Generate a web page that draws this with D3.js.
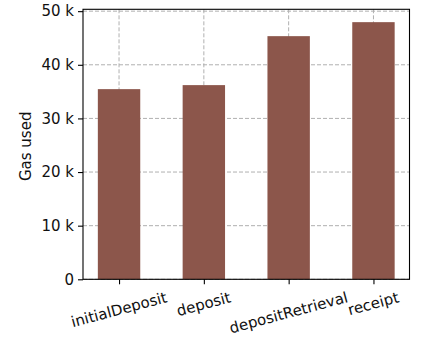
<!DOCTYPE html>
<html>
<head>
<meta charset="utf-8">
<script src="https://cdn.jsdelivr.net/npm/d3@7"></script>
<style>
  html, body { margin: 0; padding: 0; background: #fff; }
  svg { display: block; font-family: "DejaVu Sans", sans-serif; }
</style>
</head>
<body>
<svg id="chart" width="421" height="339"></svg>
<script>
// Gas consumption per contract call
const categories = ["initialDeposit", "deposit", "depositRetrieval", "receipt"];
const gasUsed = [35460, 36210, 45340, 47950];
const yTicks = [0, 10000, 20000, 30000, 40000, 50000];
const yTickLabels = ["0", "10 k", "20 k", "30 k", "40 k", "50 k"];

const W = 421, H = 339;
const margin = { top: 9.3, right: 11.5, bottom: 59.7, left: 83 };
const fontSize = "15px";
const textColor = "#111";
const svg = d3.select("#chart");
const innerW = W - margin.left - margin.right;
const innerH = H - margin.top - margin.bottom;
const g = svg.append("g").attr("transform", `translate(${margin.left},${margin.top})`);

const barWidth = 0.5;
const pad = (categories.length - 1 + barWidth) * 0.05;
const x = d3.scaleLinear()
  .domain([-barWidth / 2 - pad, categories.length - 1 + barWidth / 2 + pad])
  .range([0, innerW]);
const y = d3.scaleLinear()
  .domain([0, d3.max(gasUsed) * 1.05])
  .range([innerH, 0]);

const gridColor = "#b0b0b0";
const dash = "4,2";

// grid (drawn beneath the bars)
g.append("g").selectAll("line.hg").data(yTicks).join("line")
  .attr("x1", 0).attr("x2", innerW)
  .attr("y1", d => y(d)).attr("y2", d => y(d))
  .attr("stroke", gridColor).attr("stroke-width", 1).attr("stroke-dasharray", dash);
g.append("g").selectAll("line.vg").data(categories.map((c, i) => i)).join("line")
  .attr("x1", d => x(d)).attr("x2", d => x(d))
  .attr("y1", 0).attr("y2", innerH)
  .attr("stroke", gridColor).attr("stroke-width", 1).attr("stroke-dasharray", dash);

// bars
g.append("g").selectAll("rect").data(gasUsed).join("rect")
  .attr("x", (d, i) => x(i - barWidth / 2))
  .attr("width", (d, i) => x(i + barWidth / 2) - x(i - barWidth / 2))
  .attr("y", d => y(d))
  .attr("height", d => innerH - y(d))
  .attr("fill", "#8c564b");

// y axis
const yAxis = d3.axisLeft(y)
  .tickValues(yTicks)
  .tickFormat((d, i) => yTickLabels[i])
  .tickSize(5).tickPadding(4);
const yg = g.append("g").call(yAxis);
yg.select(".domain").remove();
yg.selectAll(".tick line").attr("stroke", "#000").attr("stroke-width", 1.1);
yg.selectAll(".tick text").attr("font-size", fontSize).attr("fill", textColor)
  .attr("font-family", "DejaVu Sans, sans-serif");

// x axis ticks
const xAxis = d3.axisBottom(x)
  .tickValues(categories.map((c, i) => i))
  .tickFormat("")
  .tickSize(5);
const xg = g.append("g").attr("transform", `translate(0,${innerH})`).call(xAxis);
xg.select(".domain").remove();
xg.selectAll(".tick line").attr("stroke", "#000").attr("stroke-width", 1.1);

// rotated category labels, centred under each tick
const angle = 15 * Math.PI / 180;
const labelTop = innerH + 5 + 4;
categories.forEach((c, i) => {
  const outer = g.append("g");
  const inner = outer.append("g");
  const t = inner.append("text")
    .attr("font-size", fontSize).attr("fill", textColor)
    .text(c);
  const bb = t.node().getBBox();
  inner.attr("transform", `translate(${-bb.x - bb.width / 2},${-bb.y - bb.height / 2})`);
  const halfH = (bb.width * Math.sin(angle) + bb.height * Math.cos(angle)) / 2;
  outer.attr("transform", `translate(${x(i)},${labelTop + halfH}) rotate(-15)`);
});

// spines
g.append("rect")
  .attr("x", 0).attr("y", 0).attr("width", innerW).attr("height", innerH)
  .attr("fill", "none").attr("stroke", "#000").attr("stroke-width", 1.1);

// y axis title
svg.append("text")
  .attr("transform", `translate(26,${margin.top + innerH / 2 + 2}) rotate(-90)`)
  .attr("text-anchor", "middle").attr("dominant-baseline", "central")
  .attr("font-size", fontSize).attr("fill", textColor)
  .text("Gas used");
</script>
</body>
</html>
